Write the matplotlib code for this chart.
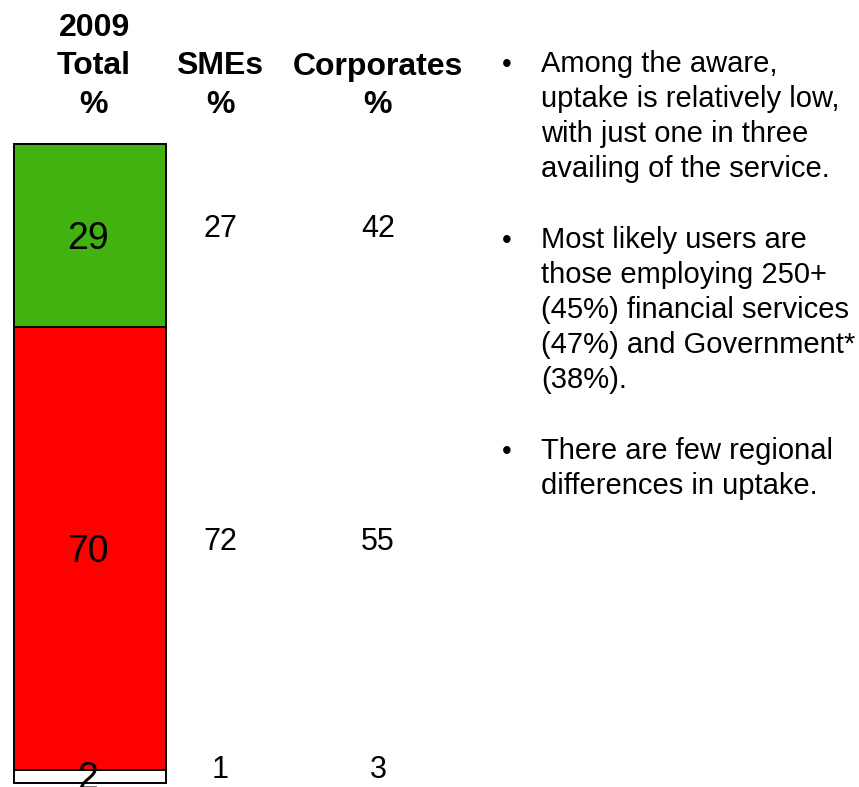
import matplotlib.pyplot as plt

plt.rcParams["font.family"] = ["Liberation Sans", "DejaVu Sans"]

# ── Data ──────────────────────────────────────────────────────────────
segments = ["uptake", "no uptake", "don't know"]
total_vals = [29, 70, 2]
sme_vals = [27, 72, 1]
corp_vals = [42, 55, 3]
seg_colors = ["#42B211", "#FF0000", "#FFFFFF"]

headers = {
    "Total": ["2009", "Total", "%"],
    "SMEs": ["SMEs", "%"],
    "Corporates": ["Corporates", "%"],
}

bullets = [
    ["Among the aware,", "uptake is relatively low,",
     "with just one in three", "availing of the service."],
    ["Most likely users are", "those employing 250+",
     "(45%) financial services", "(47%) and Government*", "(38%)."],
    ["There are few regional", "differences in uptake."],
]

# ── Layout (pixels of an 859x787 canvas) ──────────────────────────────
W, H = 859, 787
px_per_unit = (783 - 144) / sum(total_vals)
y_lo = -(H - 783) / px_per_unit
y_hi = sum(total_vals) + 144 / px_per_unit

fig = plt.figure(figsize=(W / 100, H / 100), dpi=100)
ax = fig.add_axes([0, 0, 1, 1])
ax.set_xlim(0, W)
ax.set_ylim(y_lo, y_hi)
ax.axis("off")

col_x = {"Total": 90, "SMEs": 220, "Corporates": 378}

# stacked bar, drawn top-down: uptake on top
bottom = sum(total_vals)
centers = []
for val, col in zip(total_vals, seg_colors):
    bottom -= val
    ax.bar(col_x["Total"], val, width=152, bottom=bottom, color=col,
           edgecolor="black", linewidth=1.4)
    centers.append(bottom + val / 2)

for val, c in zip(total_vals, centers):
    ax.annotate(str(val), (col_x["Total"], c), xytext=(-1.5, -2),
                textcoords="offset points", ha="center", va="center",
                fontsize=27, annotation_clip=False)

for name, vals in (("SMEs", sme_vals), ("Corporates", corp_vals)):
    for val, c in zip(vals, centers):
        ax.annotate(str(val), (col_x[name], c), xytext=(0, 5),
                    textcoords="offset points", ha="center", va="center",
                    fontsize=22)

# headers
def fig_y(px):
    return 1 - px / H

for name, lines in headers.items():
    n = len(lines)
    for i, line in enumerate(lines):
        base = 113 - (n - 1 - i) * 38.5
        fig.text(col_x[name] / W + (4 / W if name == "Total" else 0),
                 fig_y(base), line, ha="center", va="baseline",
                 fontsize=23, fontweight="bold")

# bullet text
line_no = 0
for para in bullets:
    for j, line in enumerate(para):
        base = 71.7 + line_no * 35.2
        if j == 0:
            fig.text(507 / W, fig_y(base), "•", ha="center", va="baseline",
                     fontsize=20)
        fig.text(541 / W, fig_y(base), line, ha="left", va="baseline",
                 fontsize=21)
        line_no += 1
    line_no += 1

fig.savefig("out.png", dpi=100)
